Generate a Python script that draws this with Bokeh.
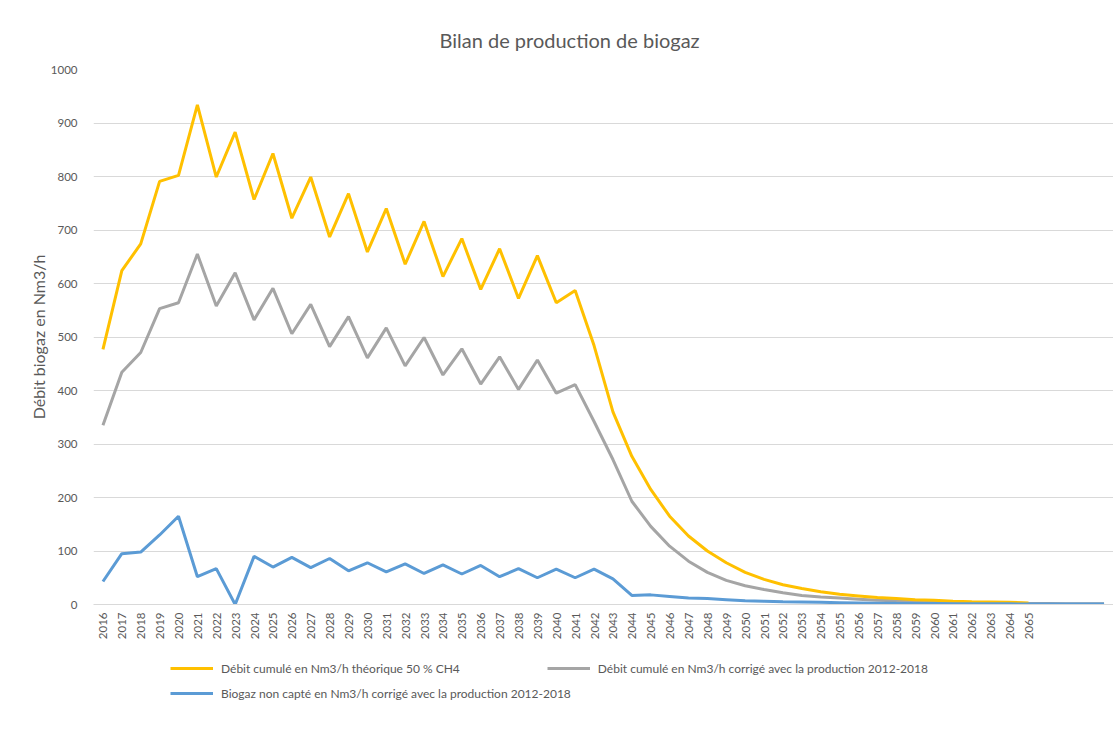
from bokeh.plotting import figure
from bokeh.layouts import column
from bokeh.models import FactorRange, Range1d, Legend, LegendItem, Title, SingleIntervalTicker
from bokeh.embed import file_html
from bokeh.resources import INLINE
import math

nan = float("nan")

# categories: 2016..2065 labelled, four trailing categories without labels
year_labels = [str(y) for y in range(2016, 2066)] + [" ", "  ", "   ", "    "]

theorique = [477, 624, 674, 791, 802, 934, 799, 883, 757, 843,
             722, 799, 687, 768, 659, 740, 636, 716, 613, 684,
             589, 665, 572, 652, 564, 587, 484, 360, 277, 215,
             165, 128, 100, 78, 60, 47, 37, 30, 24, 19,
             16, 13, 11, 9, 8, 6, 5, 4.5, 4, 3,
             nan, nan, nan, nan]

corrige = [335, 434, 471, 553, 564, 655, 558, 620, 532, 591,
           506, 561, 482, 538, 461, 517, 446, 499, 429, 478,
           412, 463, 402, 457, 395, 411, 342, 271, 193, 146,
           109, 81, 60, 45, 35, 28, 22, 17, 14, 12,
           10, 8, 7, 6, 5, 4, 3.5, 3, 2.5, 2,
           2, 1.5, 1.5, 1.5]

non_capte = [43, 95, 98, 130, 165, 52, 67, 0, 90, 70,
             88, 69, 86, 63, 78, 61, 76, 58, 74, 57,
             73, 52, 67, 50, 66, 50, 66, 48, 17, 18,
             15, 12, 11, 9, 7, 6, 5, 4.5, 4, 3.5,
             3, 2.5, 2.2, 2, 1.8, 1.6, 1.4, 1.3, 1.2, 1,
             1, 1, 1, 1]

legend_labels = ["Débit cumulé en Nm3/h théorique 50 % CH4",
                 "Débit cumulé en Nm3/h corrigé avec la production 2012-2018",
                 "Biogaz non capté en Nm3/h corrigé avec la production 2012-2018"]

TXT = "#595959"
GRID = "#d9d9d9"
FONT = "Lato"
C_YEL, C_GREY, C_BLUE = "#FFC000", "#A5A5A5", "#5B9BD5"

p = figure(width=1113, height=660, output_backend="svg", toolbar_location=None,
           x_range=FactorRange(factors=year_labels, range_padding=0),
           y_range=Range1d(0, 1000),
           min_border_left=93, min_border_right=0, min_border_top=69, min_border_bottom=56)

p.outline_line_color = None
p.background_fill_color = "white"
p.border_fill_color = "white"

p.title = Title(text="Bilan de production de biogaz", align="left", offset=346,
                text_font=FONT, text_font_size="20px", text_font_style="normal",
                text_color=TXT, standoff=36)

r_grey = p.line(year_labels, corrige, line_color=C_GREY, line_width=3)
r_yel = p.line(year_labels, theorique, line_color=C_YEL, line_width=3)
r_blue = p.line(year_labels, non_capte, line_color=C_BLUE, line_width=3)

p.yaxis.ticker = SingleIntervalTicker(interval=100)
p.yaxis.axis_line_color = None
p.yaxis.major_tick_line_color = None
p.yaxis.minor_tick_line_color = None
p.yaxis.major_tick_out = 0
p.yaxis.major_label_standoff = 12
p.yaxis.major_label_text_font = FONT
p.yaxis.major_label_text_font_size = "11.5px"
p.yaxis.major_label_text_color = TXT
p.yaxis.axis_label = "Débit biogaz en Nm3/h"
p.yaxis.axis_label_text_font = FONT
p.yaxis.axis_label_text_font_size = "16px"
p.yaxis.axis_label_text_font_style = "normal"
p.yaxis.axis_label_text_color = TXT
p.yaxis.axis_label_standoff = 0

p.xaxis.axis_line_color = GRID
p.xaxis.major_tick_line_color = None
p.xaxis.minor_tick_line_color = None
p.xaxis.major_tick_out = 0
p.xaxis.major_label_orientation = math.pi / 2
p.xaxis.major_label_standoff = 8
p.xaxis.major_label_text_font = FONT
p.xaxis.major_label_text_font_size = "11.5px"
p.xaxis.major_label_text_color = TXT

p.xgrid.grid_line_color = None
p.ygrid.grid_line_color = GRID
p.ygrid.grid_line_width = 1

# legend lives in a small companion figure under the chart
pl = figure(width=1113, height=74, output_backend="svg", toolbar_location=None,
            x_range=Range1d(0, 1113), y_range=Range1d(0, 74),
            x_axis_location=None, y_axis_location=None,
            min_border_left=0, min_border_right=0, min_border_top=0, min_border_bottom=0)
pl.outline_line_color = None
pl.grid.grid_line_color = None
pl.border_fill_color = "white"
l_yel = pl.line([nan], [nan], line_color=C_YEL, line_width=3)
l_grey = pl.line([nan], [nan], line_color=C_GREY, line_width=3)
l_blue = pl.line([nan], [nan], line_color=C_BLUE, line_width=3)

common = dict(background_fill_alpha=0, border_line_color=None,
              label_text_font=FONT, label_text_font_size="12px", label_text_color=TXT,
              glyph_width=43, glyph_height=20, label_height=20, label_standoff=8,
              padding=5, margin=0)

legend1 = Legend(items=[LegendItem(label=legend_labels[0], renderers=[l_yel]),
                        LegendItem(label=legend_labels[1], renderers=[l_grey])],
                 orientation="horizontal", spacing=87, location=(77, 56), **common)
legend2 = Legend(items=[LegendItem(label=legend_labels[2], renderers=[l_blue])],
                 orientation="horizontal", location=(77, 31), **common)
pl.add_layout(legend1, "center")
pl.add_layout(legend2, "center")

layout = column(p, pl, spacing=0)
open("out.html", "w").write(file_html(layout, INLINE))
